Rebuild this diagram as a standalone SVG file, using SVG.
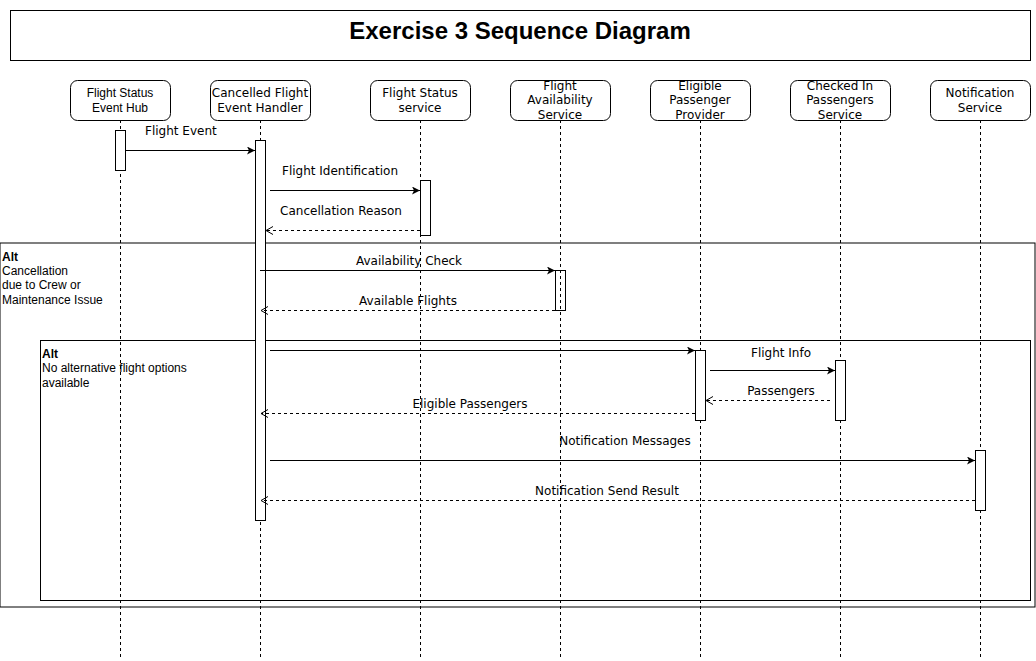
<svg xmlns="http://www.w3.org/2000/svg" width="1036" height="661" viewBox="0 0 1036 661">
<style>
.head{fill:#fff;stroke:#000;stroke-width:1}
.life{stroke:#000;stroke-width:1;stroke-dasharray:3 3;fill:none}
.act{fill:#fff;stroke:#000;stroke-width:1}
.msg{stroke:#000;stroke-width:1;fill:none}
.ret{stroke:#000;stroke-width:1;fill:none;stroke-dasharray:3 3}
.frame{fill:none;stroke:#000;stroke-width:1}
.dv{font-family:"DejaVu Sans",Verdana,sans-serif;font-size:12px;fill:#000}
.ar{font-family:"Liberation Sans",Arial,sans-serif;font-size:12px;fill:#000}
.c{text-anchor:middle}
</style>
<defs>
<marker id="fill" markerWidth="10" markerHeight="10" refX="8" refY="4" orient="auto" markerUnits="userSpaceOnUse">
<path d="M0,0 L8,4 L0,8 L2,4 Z" fill="#000"/>
</marker>
<marker id="open" markerWidth="10" markerHeight="10" refX="7" refY="4" orient="auto" markerUnits="userSpaceOnUse">
<path d="M0,0 L7,4 L0,8" fill="none" stroke="#000" stroke-width="1"/>
</marker>
</defs>
<rect width="1036" height="661" fill="#fff"/>
<g id="title">
<rect x="10.5" y="10.5" width="1020" height="50" fill="#fff" stroke="#000"/>
<text x="520" y="39" text-anchor="middle" font-family="Liberation Sans,Arial,sans-serif" font-size="24" font-weight="bold">Exercise 3 Sequence Diagram</text>
</g>
<g id="lifelines">
<line class="life" x1="120.5" y1="120" x2="120.5" y2="660"/>
<line class="life" x1="260.5" y1="120" x2="260.5" y2="660"/>
<line class="life" x1="420.5" y1="120" x2="420.5" y2="660"/>
<line class="life" x1="560.5" y1="120" x2="560.5" y2="660"/>
<line class="life" x1="700.5" y1="120" x2="700.5" y2="660"/>
<line class="life" x1="840.5" y1="120" x2="840.5" y2="660"/>
<line class="life" x1="980.5" y1="120" x2="980.5" y2="660"/>
</g>
<g id="frames">
<rect id="alt-outer" class="frame" x="0" y="243" width="1035" height="364"/>
<text class="ar" x="2" y="261" font-weight="bold">Alt</text>
<text class="ar" x="2" y="275">Cancellation</text>
<text class="ar" x="2" y="289">due to Crew or</text>
<text class="ar" x="2" y="304">Maintenance Issue</text>
<rect id="alt-inner" class="frame" x="40.5" y="340.5" width="990" height="260"/>
<text class="ar" x="42" y="358" font-weight="bold">Alt</text>
<text class="ar" x="42" y="372">No alternative flight options</text>
<text class="ar" x="42" y="387">available</text>
</g>
<g id="n-hub">
<rect class="head" x="70.5" y="80.5" width="100" height="40" rx="7"/>
<text class="ar c" x="120" y="97">Flight Status</text>
<text class="ar c" x="120" y="112">Event Hub</text>
</g>
<g id="n-handler">
<rect class="head" x="210.5" y="80.5" width="100" height="40" rx="7"/>
<text class="dv c" x="260" y="97">Cancelled Flight</text>
<text class="dv c" x="260" y="112">Event Handler</text>
</g>
<g id="n-status">
<rect class="head" x="370.5" y="80.5" width="100" height="40" rx="7"/>
<text class="dv c" x="420" y="97">Flight Status</text>
<text class="dv c" x="420" y="112">service</text>
</g>
<g id="n-avail">
<rect class="head" x="510.5" y="80.5" width="100" height="40" rx="7"/>
<text class="dv c" x="560" y="90">Flight</text>
<text class="dv c" x="560" y="104">Availability</text>
<text class="dv c" x="560" y="119">Service</text>
</g>
<g id="n-eligible">
<rect class="head" x="650.5" y="80.5" width="100" height="40" rx="7"/>
<text class="dv c" x="700" y="90">Eligible</text>
<text class="dv c" x="700" y="104">Passenger</text>
<text class="dv c" x="700" y="119">Provider</text>
</g>
<g id="n-checked">
<rect class="head" x="790.5" y="80.5" width="100" height="40" rx="7"/>
<text class="dv c" x="840" y="90">Checked In</text>
<text class="dv c" x="840" y="104">Passengers</text>
<text class="dv c" x="840" y="119">Service</text>
</g>
<g id="n-notif">
<rect class="head" x="930.5" y="80.5" width="100" height="40" rx="7"/>
<text class="dv c" x="980" y="97">Notification</text>
<text class="dv c" x="980" y="112">Service</text>
</g>
<g id="activations">
<rect class="act" x="115.5" y="130.5" width="10" height="40"/>
<rect class="act" x="255.5" y="140.5" width="10" height="380"/>
<rect class="act" x="420.5" y="180.5" width="10" height="55"/>
<rect x="555.5" y="270.5" width="10" height="40" fill="none" stroke="#000"/>
<rect class="act" x="695.5" y="350.5" width="10" height="70"/>
<rect class="act" x="835.5" y="360.5" width="10" height="60"/>
<rect class="act" x="975.5" y="450.5" width="10" height="60"/>
</g>
<g id="connectors">
<line class="msg" x1="125" y1="150.5" x2="255" y2="150.5" marker-end="url(#fill)"/>
<text class="dv" x="145" y="135">Flight Event</text>
<line class="msg" x1="270" y1="190.5" x2="420" y2="190.5" marker-end="url(#fill)"/>
<text class="dv c" x="340" y="175">Flight Identification</text>
<line class="ret" x1="420" y1="230.5" x2="266" y2="230.5" marker-end="url(#open)"/>
<text class="dv c" x="341" y="215">Cancellation Reason</text>
<line class="msg" x1="260" y1="270.5" x2="555" y2="270.5" marker-end="url(#fill)"/>
<text class="dv c" x="409" y="265">Availability Check</text>
<line class="ret" x1="555" y1="310.5" x2="261" y2="310.5" marker-end="url(#open)"/>
<text class="dv c" x="408" y="305">Available Flights</text>
<line class="msg" x1="270" y1="350.5" x2="695" y2="350.5" marker-end="url(#fill)"/>
<line class="msg" x1="710" y1="370.5" x2="835" y2="370.5" marker-end="url(#fill)"/>
<text class="dv c" x="781" y="357">Flight Info</text>
<line class="ret" x1="830" y1="400.5" x2="706" y2="400.5" marker-end="url(#open)"/>
<text class="dv c" x="781" y="395">Passengers</text>
<line class="ret" x1="695" y1="413.5" x2="261" y2="413.5" marker-end="url(#open)"/>
<text class="dv c" x="470" y="408">Eligible Passengers</text>
<line class="msg" x1="270" y1="460.5" x2="975" y2="460.5" marker-end="url(#fill)"/>
<text class="dv c" x="625" y="445">Notification Messages</text>
<line class="ret" x1="975" y1="500.5" x2="261" y2="500.5" marker-end="url(#open)"/>
<text class="dv c" x="607" y="495">Notification Send Result</text>
</g>
</svg>
